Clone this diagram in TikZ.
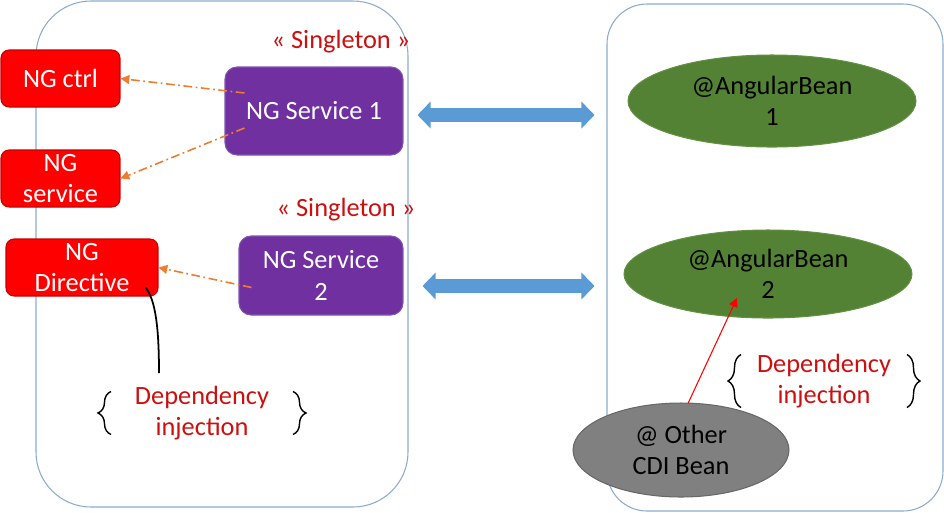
\documentclass[tikz,border=0pt]{standalone}
\usepackage{fontspec}
\setmainfont{Carlito}
\usepackage{tikz}
\usetikzlibrary{calc}
\usetikzlibrary{positioning}
\usetikzlibrary{arrows.meta}
\usetikzlibrary{shapes.geometric}
\usetikzlibrary{decorations.pathreplacing}

\definecolor{ngred}{RGB}{255,0,0}
\definecolor{ngredline}{RGB}{200,0,0}
\definecolor{svcpurple}{RGB}{112,48,160}
\definecolor{svcline}{RGB}{128,84,178}
\definecolor{tagred}{RGB}{204,16,16}
\definecolor{beangreen}{RGB}{84,130,53}
\definecolor{beanline}{RGB}{98,145,68}
\definecolor{othergrey}{RGB}{128,128,128}
\definecolor{otherline}{RGB}{104,104,104}
\definecolor{linkblue}{RGB}{91,155,213}
\definecolor{framecol}{RGB}{140,170,205}
\definecolor{injorange}{RGB}{237,125,49}

\begin{document}
\begin{tikzpicture}[x=0.02cm,y=-0.02cm,
    every node/.style={font=\fontsize{15}{18}\selectfont,align=center},
    ngbox/.style={draw=ngredline,fill=ngred,text=white,line width=0.6pt,
        rounded corners=0.16cm,inner sep=0pt,minimum width=2.38cm,minimum height=1.14cm},
    svcbox/.style={draw=svcline,fill=svcpurple,text=white,line width=0.6pt,
        rounded corners=0.24cm,inner sep=0pt},
    bean/.style={ellipse,draw=beanline,fill=beangreen,line width=0.6pt,inner sep=0pt},
    tag/.style={text=tagred},
    inject/.style={injorange,line width=0.9pt,dash pattern=on 5pt off 2pt on 1pt off 2pt,
        -{Triangle[width=5pt,length=5pt]}},
    link/.style={linkblue,line width=8pt,
        {Triangle[width=15pt,length=7.5pt]}-{Triangle[width=15pt,length=7.5pt]}},
    curly/.style={decorate,decoration={brace,amplitude=7.4pt},line width=0.8pt}]

    \useasboundingbox (0,0) rectangle (944,512);

    % the two sides
    \draw[framecol,line width=0.6pt,rounded corners=1.1cm] (36,1) rectangle (408,507);
    \draw[framecol,line width=0.6pt,rounded corners=0.8cm] (607,4) rectangle (943,511);

    % angular side
    \node[ngbox] (ctrl) at (60.5,78.5) {NG ctrl};
    \node[ngbox] (srv) at (60.5,178.5) {NG\\service};
    \node[ngbox,minimum width=3.04cm] (dir) at (82,267.5) {NG\\Directive};

    \node[svcbox,minimum width=3.56cm,minimum height=1.76cm] (svc1) at (314,111) {NG Service 1};
    \node[svcbox,minimum width=3.28cm,minimum height=1.58cm] (svc2) at (321,275.5) {NG Service\\2};

    \node[tag] (single1) at (341,42) {« Singleton »};
    \node[tag] (single2) at (346,210) {« Singleton »};

    \node[tag] (depl) at (202,413) {Dependency\\injection};

    % java side
    \node[bean,minimum width=5.76cm,minimum height=1.84cm] (bean1) at (772,101) {@AngularBean\\1};
    \node[bean,minimum width=5.76cm,minimum height=1.76cm] (bean2) at (768,274) {@AngularBean\\2};
    \node[ellipse,draw=otherline,fill=othergrey,line width=0.6pt,inner sep=0pt,
        minimum width=4.32cm,minimum height=1.88cm] (other) at (681,450) {@ Other\\CDI Bean};

    \node[tag] (depr) at (824,381) {Dependency\\injection};

    % injections
    \draw[inject] ($(svc1.west)+(20,-18)$) -- (ctrl.east);
    \draw[inject] ($(svc1.west)+(20,17)$) -- (srv.east);
    \draw[inject] ($(svc2.west)+(13,12)$) -- (dir.east);

    \draw[red,line width=0.6pt,-{Triangle[width=5pt,length=5pt]}]
        ($(other.north)+(7,1)$) -- ($(bean2.center)+(-31,24)$);

    \coordinate (tail) at (159,373);
    \draw[line width=1pt] ($(dir.south east)+(-13,-9)$) .. controls +(10,12) and +(0,-45) .. (tail);

    \foreach \n/\w/\h in {depl/91/21.5,depr/83/26.5} {
        \draw[curly] ($(\n)+(-\w,\h)$) -- ($(\n)+(-\w,-\h)$);
        \draw[curly] ($(\n)+(\w,-\h)$) -- ($(\n)+(\w,\h)$);
    }

    % links between both sides
    \draw[link] ($(svc1.east)+(14,4)$) -- ++(177,0);
    \draw[link] ($(svc2.east)+(19,10.5)$) -- ++(172,0);
\end{tikzpicture}
\end{document}
